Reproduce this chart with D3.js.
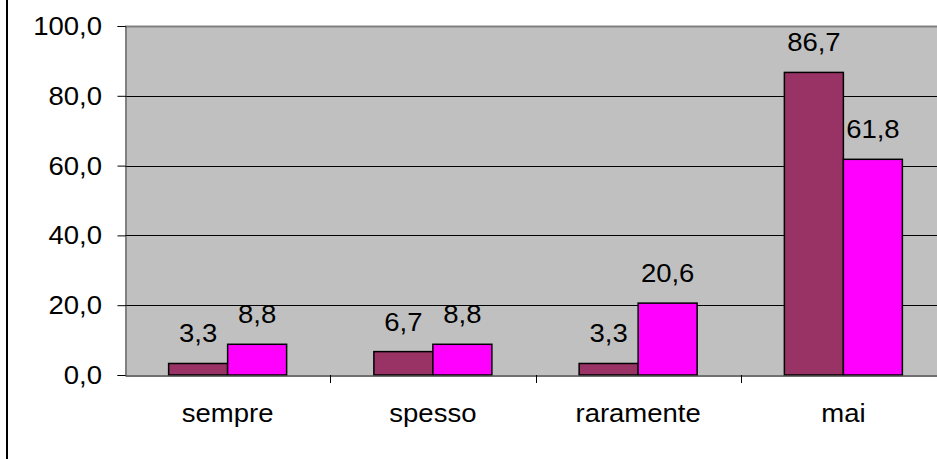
<!DOCTYPE html>
<html><head><meta charset="utf-8">
<script src="https://cdn.jsdelivr.net/npm/d3@7"></script>
<style>body{margin:0;background:#fff}svg{display:block;font-family:"Liberation Sans",Arial,sans-serif}</style>
</head><body><svg id="c" width="937" height="459"></svg>
<script>
const categories = ["sempre","spesso","raramente","mai"];
const series1 = [3.3, 6.7, 3.3, 86.7];
const series2 = [8.8, 8.8, 20.6, 61.8];
const yTicks = [0,20,40,60,80,100];
const colors = ["#993366","#FF00FF"];

const svg = d3.select("#c");
const L = 125, T = 26, B = 375, R = 946;
const FS = 25, SX = 1.1;
const fmt = v => v.toFixed(1).replace(".", ",");

svg.append("line").attr("x1",7).attr("x2",7).attr("y1",0).attr("y2",459).attr("stroke","#000").attr("stroke-width",2);

const x = d3.scaleBand().domain(categories).range([L,R]);
const y = d3.scaleLinear().domain([0,100]).range([B,T]);

svg.append("rect").attr("x",L).attr("y",T).attr("width",R-L).attr("height",B-T).attr("fill","#C0C0C0");
svg.append("line").attr("x1",L).attr("x2",R).attr("y1",T+0.5).attr("y2",T+0.5).attr("stroke","#808080").attr("stroke-width",2);

svg.append("g").selectAll("line").data(yTicks.filter(t=>t>0 && t<100)).join("line")
  .attr("x1",L).attr("x2",R).attr("y1",d=>Math.round(y(d))+0.5).attr("y2",d=>Math.round(y(d))+0.5)
  .attr("stroke","#000").attr("stroke-width",1);

const yAxis = svg.append("g").attr("transform",`translate(${L+0.5},0)`)
  .call(d3.axisLeft(y).tickValues(yTicks).tickFormat("").tickSize(8));
yAxis.select(".domain").attr("stroke","#404040");
yAxis.selectAll(".tick line").attr("stroke","#000");

function label(g, data, fx, fy, anchor, txt){
  g.selectAll("text").data(data).join("text")
    .attr("transform", d => `translate(${fx(d)},${fy(d)}) scale(${SX},1)`)
    .attr("text-anchor", anchor).attr("font-size", FS).attr("fill","#000")
    .text(txt);
}
label(svg.append("g"), yTicks, d=>102, d=>y(d)+9, "end", fmt);

const barW = 59;
const data = [];
categories.forEach((c,i)=>{
  data.push({c, v:series1[i], s:0});
  data.push({c, v:series2[i], s:1});
});
const cx = c => x(c) + x.bandwidth()/2;

svg.append("g").selectAll("rect").data(data).join("rect")
  .attr("x",d=>cx(d.c) - barW + d.s*barW)
  .attr("y",d=>y(d.v))
  .attr("width",barW).attr("height",d=>B-y(d.v))
  .attr("fill",d=>colors[d.s]).attr("stroke","#000").attr("stroke-width",1.5);

label(svg.append("g"), data, d=>cx(d.c) - barW/2 + d.s*barW, d=>y(d.v)-21, "middle", d=>fmt(d.v));

const xAxis = svg.append("g").attr("transform",`translate(0,${B+0.5})`)
  .call(d3.axisBottom(x).tickSize(0).tickFormat(""));
xAxis.select(".domain").attr("stroke","#404040").attr("stroke-width",1.5);
label(svg.append("g"), categories, d=>cx(d), d=>422, "middle", d=>d);

svg.append("g").selectAll("line").data(categories.slice(1)).join("line")
  .attr("x1",d=>Math.round(x(d))+0.5).attr("x2",d=>Math.round(x(d))+0.5)
  .attr("y1",B).attr("y2",B+8).attr("stroke","#000");
</script></body></html>
